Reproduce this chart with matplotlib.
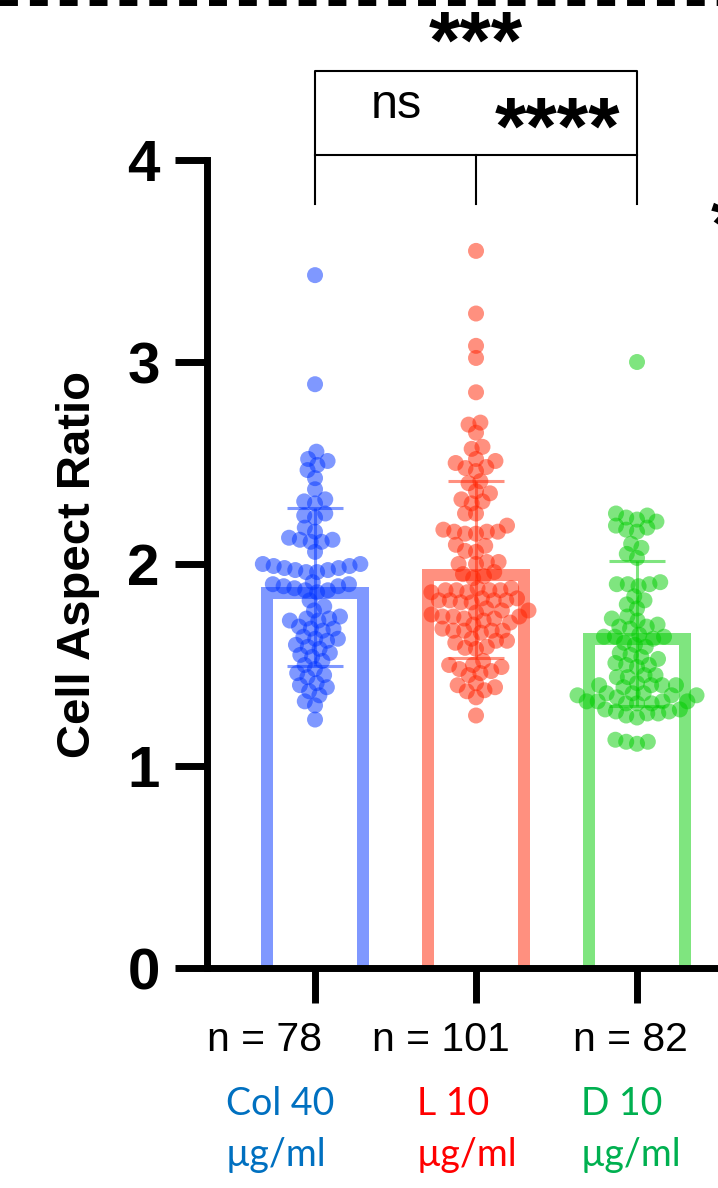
import numpy as np
import matplotlib.pyplot as plt
from matplotlib.lines import Line2D
from matplotlib.colors import to_rgba
from matplotlib.transforms import blended_transform_factory

plt.rcParams['font.family'] = ['Liberation Sans', 'DejaVu Sans']

# data
group_names = ["Col 40", "L 10", "D 10"]
unit_label = "µg/ml"

col40 = [3.43, 2.89, 2.556, 2.52, 2.51, 2.49, 2.465, 2.425, 2.37, 2.32,
         2.31, 2.30, 2.25, 2.24, 2.23, 2.18, 2.16, 2.13, 2.12, 2.12,
         2.11, 2.11, 2.06, 2.00, 2.00, 1.99, 1.99, 1.98, 1.98, 1.97,
         1.97, 1.96, 1.96, 1.91, 1.90, 1.90, 1.89, 1.89, 1.88, 1.87,
         1.87, 1.86, 1.82, 1.79, 1.77, 1.74, 1.73, 1.73, 1.72, 1.72,
         1.69, 1.68, 1.68, 1.67, 1.64, 1.63, 1.63, 1.62, 1.60, 1.59,
         1.58, 1.56, 1.55, 1.54, 1.52, 1.50, 1.48, 1.46, 1.45, 1.44,
         1.41, 1.40, 1.39, 1.37, 1.35, 1.32, 1.30, 1.23]

l10 = [3.55, 3.24, 3.08, 3.02, 2.85, 2.70, 2.69, 2.65, 2.58, 2.57,
       2.52, 2.51, 2.50, 2.48, 2.475, 2.46, 2.41, 2.40, 2.36, 2.35,
       2.32, 2.31, 2.30, 2.25, 2.25, 2.19, 2.17, 2.16, 2.16, 2.16,
       2.15, 2.15, 2.095, 2.09, 2.065, 2.06, 2.01, 2.01, 2.00, 2.00,
       1.96, 1.95, 1.94, 1.93, 1.88, 1.88, 1.87, 1.87, 1.87, 1.87,
       1.86, 1.86, 1.83, 1.83, 1.82, 1.82, 1.82, 1.82, 1.81, 1.81,
       1.78, 1.77, 1.77, 1.76, 1.75, 1.74, 1.74, 1.74, 1.73, 1.73,
       1.72, 1.71, 1.70, 1.68, 1.67, 1.67, 1.67, 1.67, 1.66, 1.63,
       1.62, 1.62, 1.61, 1.59, 1.585, 1.58, 1.52, 1.50, 1.50, 1.49,
       1.48, 1.47, 1.46, 1.45, 1.41, 1.40, 1.39, 1.375, 1.37, 1.34,
       1.25]

d10 = [3.00, 2.25, 2.24, 2.23, 2.22, 2.21, 2.19, 2.18, 2.17, 2.16,
       2.10, 2.08, 2.05, 2.03, 1.91, 1.90, 1.90, 1.90, 1.89, 1.84,
       1.82, 1.80, 1.78, 1.74, 1.73, 1.72, 1.70, 1.69, 1.69, 1.68,
       1.65, 1.64, 1.64, 1.64, 1.63, 1.61, 1.60, 1.59, 1.56, 1.55,
       1.54, 1.53, 1.51, 1.50, 1.50, 1.49, 1.45, 1.45, 1.44, 1.44,
       1.41, 1.40, 1.40, 1.40, 1.40, 1.39, 1.36, 1.36, 1.36, 1.35,
       1.35, 1.35, 1.34, 1.32, 1.32, 1.32, 1.32, 1.31, 1.31, 1.31,
       1.28, 1.28, 1.27, 1.27, 1.26, 1.26, 1.25, 1.24, 1.13, 1.12,
       1.12, 1.11]

# bar height (mean) and error bar (SD) as shown in the figure
means = [1.886, 1.973, 1.656]
sds = [0.391, 0.438, 0.359]

groups = [col40, l10, d10]
point_colors = ["#0033FF", "#FF2200", "#00CC00"]
text_colors = ["#0070C0", "#FF0000", "#00B050"]

W, H = 718, 1188
fig = plt.figure(figsize=(W / 100, H / 100), dpi=100)


def fx(px):
    return px / W


def fy(py):
    return 1 - py / H


ax = fig.add_axes([fx(207), fy(968), fx(718) - fx(207), fy(160) - fy(968)])
ax.set_xlim(-0.671, 2.503)
ax.set_ylim(0, 4)


def swarm(values, center, gap=11.0):
    vals = np.asarray(values, float)
    pts = ax.transData.transform(np.column_stack([np.full(len(vals), center), vals]))
    ypix = pts[:, 1]
    placed = []
    offs = np.zeros(len(vals))
    for i in np.argsort(ypix):
        y = ypix[i]
        cands = [0.0]
        for px, py in placed:
            dy = abs(py - y)
            if dy < gap:
                dx = np.sqrt(gap ** 2 - dy ** 2)
                cands += [px - dx, px + dx]
        for c in sorted(cands, key=abs):
            if all((c - px) ** 2 + (y - py) ** 2 >= gap ** 2 - 1e-6 for px, py in placed):
                break
        placed.append((c, y))
        offs[i] = c
    back = ax.transData.inverted().transform(np.column_stack([pts[:, 0] + offs, ypix]))
    return back[:, 0]


pos = np.arange(len(groups))
# pixel sizes -> data units
ppx = ax.transData.transform([[1, 0]])[0, 0] - ax.transData.transform([[0, 0]])[0, 0]
ppy = ax.transData.transform([[0, 1]])[0, 1] - ax.transData.transform([[0, 0]])[0, 1]
bar_lw_px = 12
inset = bar_lw_px / 2 / ppy

for i, vals in enumerate(groups):
    c = to_rgba(point_colors[i], 0.5)
    ax.bar(pos[i], means[i] - inset + 0.1, bottom=-0.1, width=96 / ppx,
           fill=False, edgecolor=c, linewidth=bar_lw_px * 0.72,
           joinstyle="miter", zorder=2)
    xs = swarm(vals, pos[i])
    ax.scatter(xs, vals, s=(16 * 0.72) ** 2, color=c, edgecolors="none", zorder=3)
    ax.errorbar(pos[i], means[i], yerr=sds[i], fmt="none", ecolor=c,
                elinewidth=2.2, capsize=20, capthick=2.2, zorder=4)

for s in ["top", "right"]:
    ax.spines[s].set_visible(False)
for s in ["left", "bottom"]:
    ax.spines[s].set_linewidth(5)
ax.set_yticks([0, 1, 2, 3, 4], ["0", "1", "2", "3", "4"], fontweight="bold")
ax.tick_params(axis="y", length=23, width=5, labelsize=42, pad=11)
ax.set_xticks(pos, ["", "", ""])
ax.tick_params(axis="x", length=25, width=5)

# n labels and group labels
n_left = [207, 372, 573]
for i, vals in enumerate(groups):
    fig.text(fx(n_left[i]), fy(1051), f"n = {len(vals)}", fontsize=29.5,
             ha="left", va="baseline")

g_left = [226, 417, 581]
for i, name in enumerate(group_names):
    fig.text(fx(g_left[i]), fy(1115), name, fontsize=27, family="Lato",
             color=text_colors[i], ha="left", va="baseline")
    fig.text(fx(g_left[i]), fy(1166), unit_label, fontsize=27, family="Lato",
             color=text_colors[i], ha="left", va="baseline")

fig.text(fx(78), fy(565), "Cell Aspect Ratio", rotation=90, fontsize=34,
         fontweight="bold", ha="center", va="center")

# significance brackets
tr = blended_transform_factory(ax.transData, fig.transFigure)
kw = dict(color="black", linewidth=1.5, transform=tr, clip_on=False)
ax.add_line(Line2D([0, 0, 2, 2], [fy(204), fy(71), fy(71), fy(204)], **kw))
ax.add_line(Line2D([0, 2], [fy(155), fy(155)], **kw))
ax.add_line(Line2D([1, 1], [fy(155), fy(204)], **kw))

fig.text(fx(476), fy(68), "***", fontsize=58, fontweight="bold",
         ha="center", va="baseline")
fig.text(fx(557), fy(154), "****", fontsize=58, fontweight="bold",
         ha="center", va="baseline")
fig.text(fx(396), fy(118), "ns", fontsize=35,
         family=["Liberation Sans Narrow", "Liberation Sans"],
         ha="center", va="baseline")
# asterisk of a neighbouring comparison, cut by the right edge
fig.text(fx(726), fy(252), "*", fontsize=58, fontweight="bold",
         ha="center", va="baseline")

# dashed line along the top edge
fig.add_artist(Line2D([0, 1], [fy(3), fy(3)], transform=fig.transFigure,
                      color="black", linewidth=4.3, dashes=(3.0, 2.0)))

fig.savefig("out.png", dpi=100)
